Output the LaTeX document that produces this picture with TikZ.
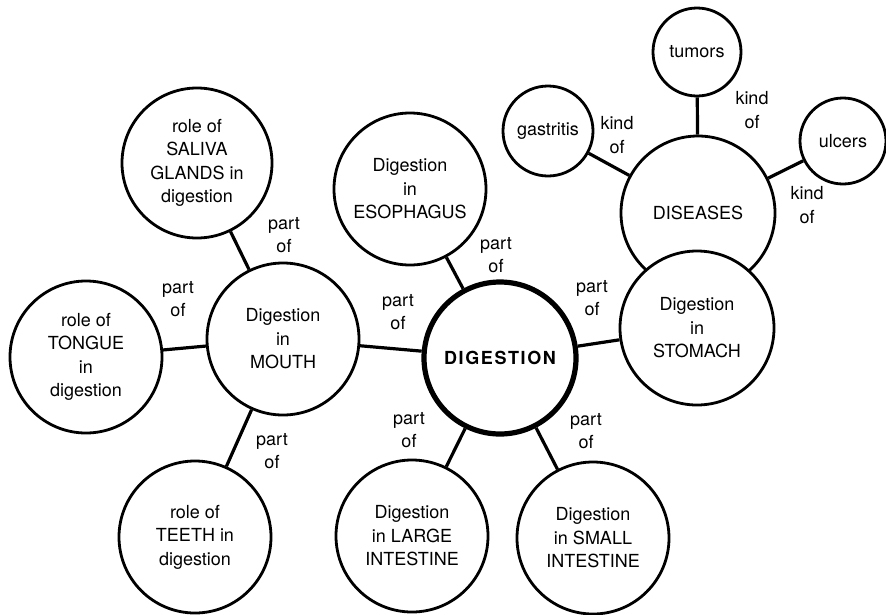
\documentclass[tikz,border=0pt]{standalone}
\usepackage{fontspec}
\setmainfont{TeX Gyre Heros}
\newfontfamily\hubfont[LetterSpace=9]{TeX Gyre Heros}
\begin{document}
\begin{tikzpicture}[x=1pt,y=-1pt,
  concept/.style={circle,draw,line width=2.8pt,fill=white,inner sep=0pt,
    minimum size=152pt,align=center,font=\fontsize{18}{23.5}\selectfont},
  smallconcept/.style={concept,minimum size=88pt},
  hub/.style={concept,line width=5.2pt},
  rel/.style={align=center,inner sep=0pt,font=\fontsize{18}{23.5}\selectfont},
  link/.style={line width=3.2pt}]
\useasboundingbox (0,0) rectangle (886,614);

% central concept and its parts
\node[hub] (dig) at (500,358) {{\hubfont\bfseries DIGESTION}};
\node[concept] (mouth) at (283,339) {Digestion\\in\\MOUTH};
\node[concept] (eso) at (410,189) {Digestion\\in\\ESOPHAGUS};
\node[concept] (large) at (412,536) {Digestion\\in LARGE\\INTESTINE};
\node[concept] (smallint) at (593,538) {Digestion\\in SMALL\\INTESTINE};

% parts of digestion in the mouth
\node[concept,minimum size=150pt] (saliva) at (197,163) {role of\\SALIVA\\GLANDS in\\digestion};
\node[concept] (tongue) at (86,357) {role of\\TONGUE\\in\\digestion};
\node[concept] (teeth) at (195,537) {role of\\TEETH in\\digestion};

% stomach and its diseases (stomach drawn over the diseases circle)
\node[concept,minimum size=154pt] (dis) at (698,213) {DISEASES};
\node[concept,minimum size=154pt] (stom) at (697,328) {Digestion\\in\\STOMACH};
\node[smallconcept,minimum size=90pt] (gast) at (548,131) {gastritis};
\node[smallconcept] (tum) at (697,52) {tumors};
\node[smallconcept,minimum size=86pt] (ulc) at (843,141) {ulcers};

% connectors
\draw[link] (saliva) -- (mouth);
\draw[link] (tongue) -- (mouth);
\draw[link] (teeth) -- (mouth);
\draw[link] (mouth) -- (dig);
\draw[link] (eso) -- (dig);
\draw[link] (stom) -- (dig);
\draw[link] (large) -- (dig);
\draw[link] (smallint) -- (dig);
\draw[link] (gast) -- (dis);
\draw[link] (tum) -- (dis);
\draw[link] (ulc) -- (dis);

% link labels
\node[rel] (l1) at (284,235) {part\\of};
\node[rel] (l2) at (178,299) {part\\of};
\node[rel] (l3) at (398,312) {part\\of};
\node[rel] (l4) at (272,451) {part\\of};
\node[rel] (l5) at (496,255) {part\\of};
\node[rel] (l6) at (592,298) {part\\of};
\node[rel] (l7) at (409,430) {part\\of};
\node[rel] (l8) at (586,431) {part\\of};
\node[rel] (k1) at (617,135) {kind\\of};
\node[rel] (k2) at (752,110) {kind\\of};
\node[rel] (k3) at (807,205) {kind\\of};
\end{tikzpicture}
\end{document}
